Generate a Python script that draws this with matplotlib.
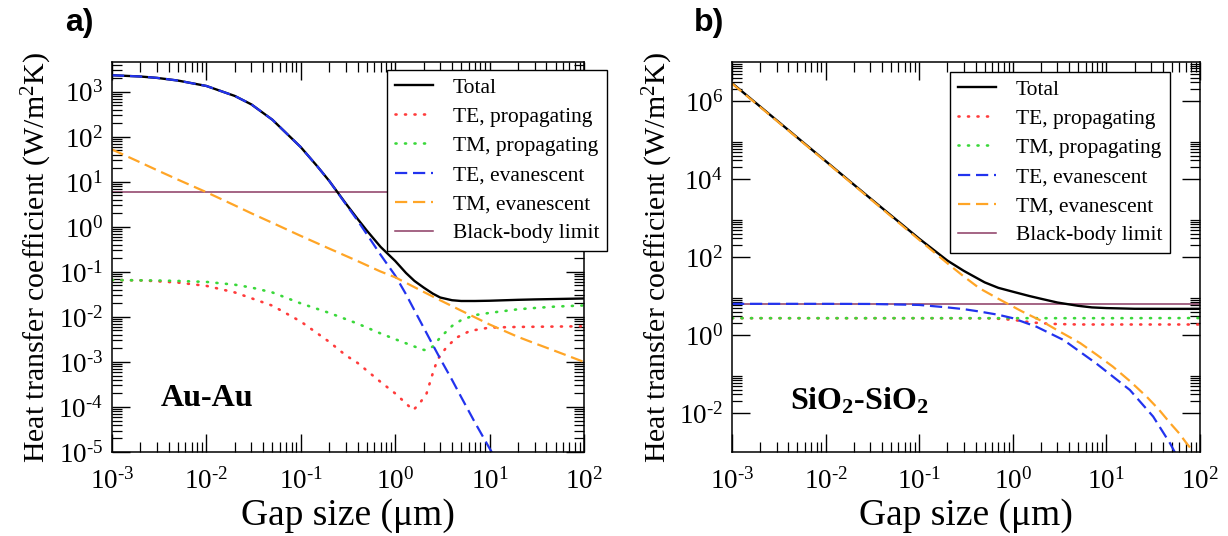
import math
import matplotlib
matplotlib.use("Agg")
import matplotlib.pyplot as plt
from matplotlib.ticker import (LogLocator, FixedLocator, FuncFormatter,
                               NullFormatter)

plt.rcParams.update({
    "font.family": ["Liberation Serif", "DejaVu Serif"],
    "mathtext.fontset": "custom",
    "mathtext.rm": "Liberation Serif",
    "mathtext.it": "Liberation Serif:italic",
    "mathtext.bf": "Liberation Serif:bold",
    "axes.unicode_minus": False,
})

# ---------------- Au-Au (panel a) ----------------
au_total_x = [0.001, 0.002, 0.003, 0.005, 0.01, 0.02, 0.03, 0.05, 0.1, 0.15, 0.2,
              0.3, 0.4, 0.5, 0.7, 1.0, 1.3, 1.6, 2.0, 2.5, 3.0, 4.0, 5.0, 7.0, 10,
              20, 30, 50, 100]
au_total_y = [2340, 2190, 2040, 1780, 1350, 810, 525, 240, 59, 22, 10.5,
              3.3, 1.5, 0.83, 0.36, 0.175, 0.095, 0.063, 0.045, 0.033, 0.027, 0.0235,
              0.0226, 0.0226, 0.0229, 0.024, 0.0245, 0.025, 0.0257]

au_te_prop_x = [0.001, 0.002, 0.003, 0.005, 0.01, 0.02, 0.03, 0.05, 0.1, 0.2, 0.3,
                0.4, 0.7, 1.0, 1.3, 1.55, 1.8, 2.15, 2.5, 2.8, 3.5, 4.5, 6.2, 10,
                20, 100]
au_te_prop_y = [0.066, 0.065, 0.062, 0.058, 0.049, 0.035, 0.026, 0.0178, 0.0079,
                0.0028, 0.0014, 0.00095, 3.6e-4, 2.0e-4, 1.2e-4, 8.5e-5, 1.17e-4,
                2.0e-4, 5.6e-4, 0.00112, 0.00214, 0.0035, 0.0049, 0.0058, 0.006,
                0.0062]

au_tm_prop_x = [0.001, 0.002, 0.003, 0.005, 0.01, 0.02, 0.03, 0.05, 0.1, 0.2, 0.4,
                0.7, 1.0, 1.3, 1.6, 2.0, 2.15, 2.5, 3.0, 4.0, 5.0, 7.0, 10, 20, 30,
                50, 100]
au_tm_prop_y = [0.066, 0.065, 0.0645, 0.063, 0.060, 0.052, 0.045, 0.035, 0.020,
                0.0123, 0.0071, 0.0043, 0.0032, 0.0026, 0.0022, 0.00186, 0.00182,
                0.0022, 0.0035, 0.0063, 0.0085, 0.011, 0.0123, 0.0148, 0.0158,
                0.017, 0.018]

au_te_ev_x = [0.001, 0.002, 0.003, 0.005, 0.01, 0.02, 0.03, 0.05, 0.1, 0.15, 0.2,
              0.3, 0.4, 0.5, 0.7, 1.0, 1.3, 1.6, 2.0, 2.5, 3.0, 4.0, 5.0, 7.0, 10,
              11.2]
au_te_ev_y = [2340, 2190, 2040, 1780, 1350, 810, 525, 240, 59, 22, 10.5,
              3.2, 1.38, 0.69, 0.24, 0.083, 0.032, 0.014, 0.0058, 0.0024, 0.00118,
              4.0e-4, 1.66e-4, 4.5e-5, 1.2e-5, 8e-6]

au_tm_ev_x = [0.001, 0.002, 0.003, 0.005, 0.01, 0.02, 0.03, 0.05, 0.1, 0.2, 0.4,
              0.7, 1.0, 2.0, 3.0, 5.0, 10, 20, 30, 50, 100]
au_tm_ev_y = [52.5, 27, 18.2, 11.2, 5.9, 3.0, 2.0, 1.23, 0.63, 0.33, 0.174, 0.102,
              0.076, 0.036, 0.0234, 0.0138, 0.0068, 0.0036, 0.0026, 0.00174, 0.001]

# ---------------- SiO2-SiO2 (panel b) ----------------
si_total_x = [0.001, 0.003, 0.01, 0.03, 0.1, 0.2, 0.3, 0.5, 0.7, 1.0, 1.5, 2.0,
              3.0, 5.0, 7.0, 10, 20, 50, 100]
si_total_y = [2.88e6, 3.2e5, 2.88e4, 3.2e3, 295, 81, 44, 22.4, 16.2, 12.9, 10.0,
              8.5, 6.8, 5.6, 5.1, 4.9, 4.7, 4.68, 4.68]

si_te_prop_x = [0.001, 0.01, 0.1, 0.6, 1.0, 1.6, 2.5, 5.0, 10, 100]
si_te_prop_y = [2.7, 2.7, 2.7, 2.68, 2.45, 2.1, 1.93, 1.86, 1.86, 1.86]

si_tm_prop_x = [0.001, 0.01, 0.1, 1.0, 10, 100]
si_tm_prop_y = [2.7, 2.7, 2.7, 2.7, 2.7, 2.72]

si_te_ev_x = [0.001, 0.01, 0.03, 0.1, 0.2, 0.3, 0.44, 0.7, 1.0, 1.8, 3.5, 7.8,
              17.8, 31.6, 47.9, 56]
si_te_ev_y = [6.3, 6.3, 6.25, 5.9, 5.1, 4.6, 4.0, 3.3, 2.7, 1.62, 0.74, 0.186,
              0.039, 0.0081, 0.00166, 0.00083]

si_tm_ev_x = [0.001, 0.01, 0.1, 0.2, 0.3, 0.44, 0.7, 0.93, 1.26, 1.95, 3.0, 5.25,
              7.9, 11.7, 17.8, 27, 36, 48, 60, 72, 89]
si_tm_ev_y = [2.8e6, 2.8e4, 275, 69, 31.6, 15.8, 8.5, 5.9, 4.0, 2.4, 1.32, 0.62,
              0.31, 0.155, 0.066, 0.026, 0.0126, 0.0055, 0.003, 0.00166, 0.00089]

blackbody = 6.1
gap_range = [1e-3, 1e2]

labels = ["Total", "TE, propagating", "TM, propagating", "TE, evanescent",
          "TM, evanescent", "Black-body limit"]

styles = [
    dict(color="black", lw=1.7, ls="-"),
    dict(color="#ff3b3b", lw=1.9, ls=(0, (0.4, 3.2)), dash_capstyle="round"),
    dict(color="#3ad83a", lw=1.9, ls=(0, (0.4, 3.2)), dash_capstyle="round"),
    dict(color="#2233ee", lw=1.6, ls=(0, (5.5, 2.6))),
    dict(color="#ffa526", lw=1.6, ls=(0, (5.5, 2.6))),
    dict(color="#8c3b63", lw=1.1, ls="-"),
]


def decade_label(value, pos):
    exp = int(round(math.log10(value)))
    txt = str(exp).replace("-", "\u2010")
    return "10$^{\\mathregular{%s}}$" % txt


W, H = 1228, 536
fig = plt.figure(figsize=(W / 100, H / 100), dpi=100)
ax1 = fig.add_axes([112 / W, 84 / H, 472 / W, 390 / H])
ax2 = fig.add_axes([732 / W, 84 / H, 468 / W, 390 / H])


def draw(ax, series, ylim):
    handles = []
    for (x, y), st in zip(series, styles[:5]):
        h, = ax.plot(x, y, zorder=2, **st)
        handles.append(h)
    h, = ax.plot(gap_range, [blackbody, blackbody], zorder=1.5, **styles[5])
    handles.append(h)
    handles[0].set_zorder(1.8)  # total sits under the component curves
    ax.set_xscale("log")
    ax.set_yscale("log")
    ax.set_xlim(*gap_range)
    ax.set_ylim(*ylim)
    ax.xaxis.set_major_locator(LogLocator(base=10, numticks=20))
    ax.xaxis.set_minor_locator(LogLocator(base=10, subs=range(2, 10), numticks=60))
    ax.xaxis.set_major_formatter(FuncFormatter(decade_label))
    ax.xaxis.set_minor_formatter(NullFormatter())
    ax.tick_params(which="both", direction="in", top=True, right=True)
    ax.tick_params(axis="x", labelsize=19.5, pad=11.5)
    ax.tick_params(axis="y", labelsize=19.5, pad=6.5)
    ax.tick_params(which="major", length=13, width=1.0)
    ax.tick_params(which="minor", length=7, width=0.9)
    for sp in ax.spines.values():
        sp.set_linewidth(1.1)
    ax.set_xlabel("Gap size (\u03bcm)", fontsize=27, labelpad=3)
    ax.set_ylabel("Heat transfer coefficient (W/m$^{2}$K)", fontsize=21.5,
                  labelpad=3)
    return handles


h1 = draw(ax1, [(au_total_x, au_total_y), (au_te_prop_x, au_te_prop_y),
                (au_tm_prop_x, au_tm_prop_y), (au_te_ev_x, au_te_ev_y),
                (au_tm_ev_x, au_tm_ev_y)], (1e-5, 4.6e3))
ax1.yaxis.set_major_locator(LogLocator(base=10, numticks=20))
ax1.yaxis.set_minor_locator(LogLocator(base=10, subs=range(2, 10), numticks=60))
ax1.yaxis.set_major_formatter(FuncFormatter(decade_label))
ax1.yaxis.set_minor_formatter(NullFormatter())

h2 = draw(ax2, [(si_total_x, si_total_y), (si_te_prop_x, si_te_prop_y),
                (si_tm_prop_x, si_tm_prop_y), (si_te_ev_x, si_te_ev_y),
                (si_tm_ev_x, si_tm_ev_y)], (1e-3, 1e7))
ax2.yaxis.set_major_locator(FixedLocator([10.0 ** e for e in range(-2, 7, 2)]))
ax2.yaxis.set_minor_locator(FixedLocator(
    [m * 10.0 ** e for e in range(-2, 7, 2) for m in range(2, 10)]))
ax2.yaxis.set_major_formatter(FuncFormatter(decade_label))
ax2.yaxis.set_minor_formatter(NullFormatter())

leg_kw = dict(loc="upper left", fontsize=15.5, handlelength=1.8,
              handletextpad=0.9, labelspacing=0.42, borderpad=0.35,
              borderaxespad=0, fancybox=False, edgecolor="black",
              framealpha=1, facecolor="white")
lg1 = ax1.legend(h1, labels, bbox_to_anchor=(0.583, 0.979), **leg_kw)
lg2 = ax2.legend(h2, labels, bbox_to_anchor=(0.466, 0.974), **leg_kw)
for lg in (lg1, lg2):
    lg.get_frame().set_linewidth(1.0)

ax1.text(0.104, 0.118, "Au-Au", transform=ax1.transAxes, ha="left",
         va="baseline", fontsize=23, fontweight="bold")
ax2.text(0.124, 0.108, r"SiO$_\mathbf{2}$-SiO$_\mathbf{2}$", transform=ax2.transAxes,
         ha="left", va="baseline", fontsize=23, fontweight="bold")

fig.text(65 / W, 1 - 8 / H, "a)", family="Liberation Sans", fontweight="bold",
         fontsize=23, va="top", ha="left")
fig.text(694 / W, 1 - 8 / H, "b)", family="Liberation Sans", fontweight="bold",
         fontsize=23, va="top", ha="left")

fig.savefig("out.png", dpi=100)
